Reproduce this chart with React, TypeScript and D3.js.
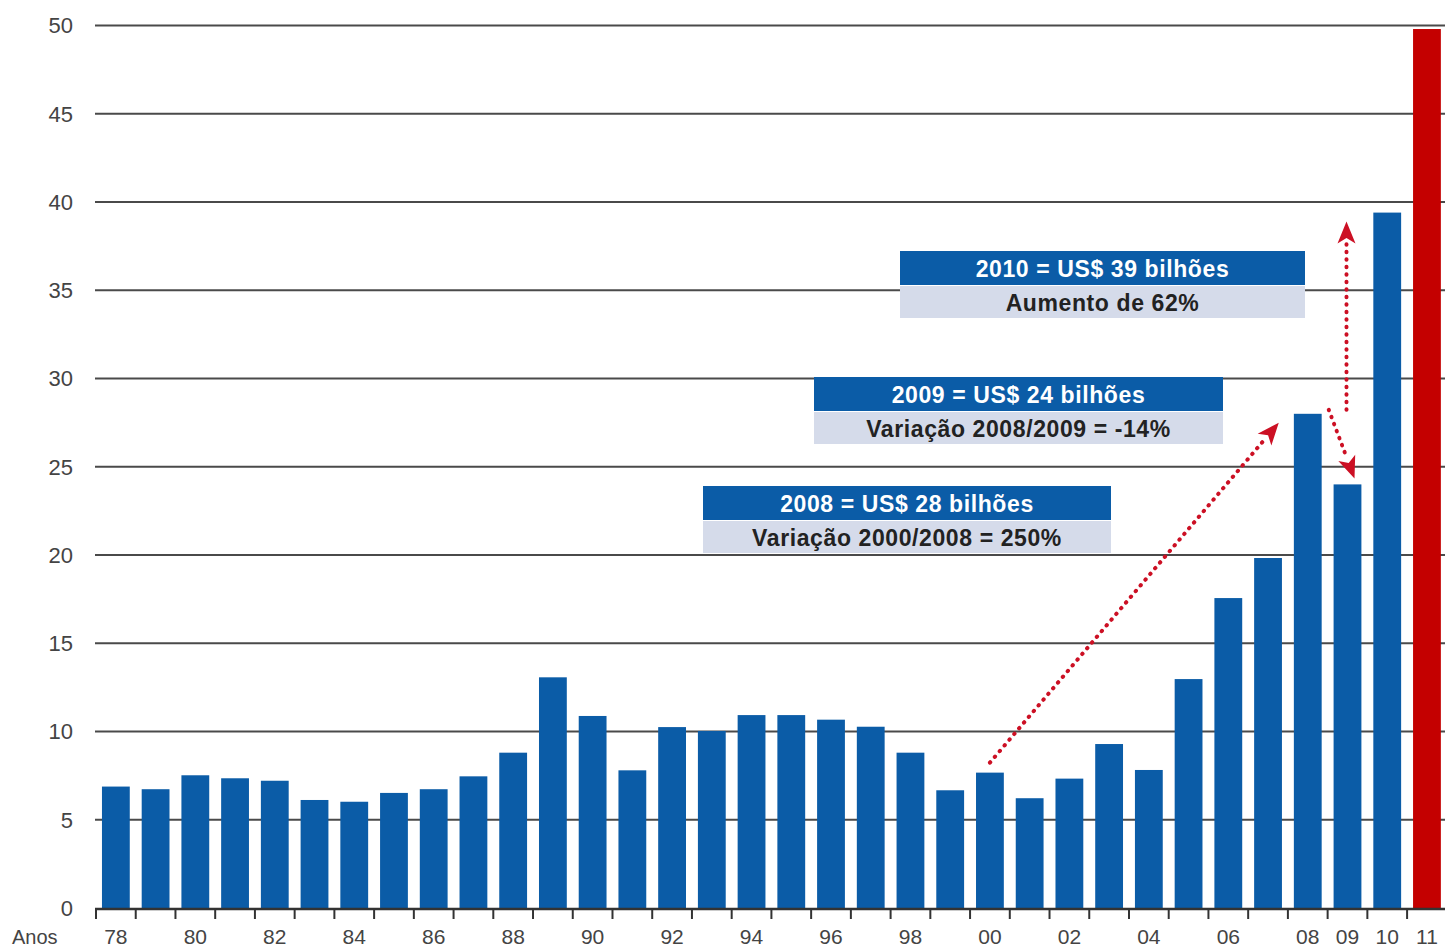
import React from "react";
import * as d3 from "d3";

// Investimento anual, US$ bilhões
const years = [
  "78", "79", "80", "81", "82", "83", "84", "85", "86", "87", "88", "89",
  "90", "91", "92", "93", "94", "95", "96", "97", "98", "99", "00", "01",
  "02", "03", "04", "05", "06", "07", "08", "09", "10", "11",
];
const values = [
  6.88, 6.73, 7.52, 7.35, 7.21, 6.12, 6.02, 6.52, 6.73, 7.46, 8.8, 13.07,
  10.88, 7.8, 10.25, 10.03, 10.93, 10.93, 10.67, 10.27, 8.8, 6.67, 7.67, 6.22,
  7.33, 9.29, 7.82, 12.97, 17.56, 19.83, 28, 24, 39.4,
];
// 2011 column is shown as a red highlight
const highlightYear = "11";
const highlightTop = 49.8;

const yTicks = [0, 5, 10, 15, 20, 25, 30, 35, 40, 45, 50];
const xLabels = [
  "78", "80", "82", "84", "86", "88", "90", "92", "94", "96", "98", "00",
  "02", "04", "06", "08", "09", "10", "11",
];

const W = 1445;
const H = 950;
const FONT = "'Liberation Sans', Arial, Helvetica, sans-serif";
const BLUE = "#0b5ca7";
const LIGHT = "#d5dbea";
const RED = "#c40000";
const ARROW = "#cc1024";

export default function App() {
  const x = d3
    .scaleBand<string>()
    .domain(years)
    .range([96, 96 + 34 * 39.73])
    .paddingInner(0.3)
    .paddingOuter(0.15);
  const y = d3.scaleLinear().domain([0, 50]).range([908, 25.5]);
  const step = x.step();
  const bw = x.bandwidth();
  const cx = (yr: string) => (x(yr) as number) + bw / 2;
  const val = (yr: string) => values[years.indexOf(yr)];

  const fmt = d3.format(".0f");

  const boxes = [
    {
      x0: 900,
      x1: 1305,
      top: 251,
      title: `2010 = US$ ${fmt(val("10"))} bilhões`,
      sub: "Aumento de 62%",
    },
    {
      x0: 814,
      x1: 1223,
      top: 377,
      title: `2009 = US$ ${fmt(val("09"))} bilhões`,
      sub: "Variação 2008/2009 = -14%",
    },
    {
      x0: 703,
      x1: 1111,
      top: 486,
      title: `2008 = US$ ${fmt(val("08"))} bilhões`,
      sub: "Variação 2000/2008 = 250%",
    },
  ];

  const arrows = [
    { x1: cx("00"), y1: y(val("00")) - 10, x2: cx("08") - 29, y2: y(val("08")) + 9 },
    { x1: cx("08") + 21, y1: y(val("08")) - 4, x2: cx("09") + 7, y2: y(val("09")) - 6 },
    { x1: cx("09") - 1, y1: y(val("08")) - 4, x2: cx("09") - 1, y2: y(val("10")) + 9 },
  ];

  const tickPositions = years.map((yr) => (x(yr) as number) - step * 0.15);

  return (
    <svg
      width={W}
      height={H}
      style={{ position: "absolute", left: 0, top: 0, display: "block" }}
      fontFamily={FONT}
    >
      <rect width={W} height={H} fill="#fff" />

      {/* gridlines */}
      {yTicks
        .filter((t) => t > 0)
        .map((t) => (
          <line key={t} x1={95} x2={W} y1={y(t)} y2={y(t)} stroke="#4a4a4a" strokeWidth={2} />
        ))}

      {/* y labels */}
      {yTicks.map((t) => (
        <text
          key={t}
          x={73}
          y={y(t)}
          dy="0.36em"
          textAnchor="end"
          fontSize={22}
          fill="#444"
        >
          {t}
        </text>
      ))}

      {/* bars */}
      {values.map((v, i) => (
        <rect
          key={years[i]}
          x={x(years[i])}
          y={y(v)}
          width={bw}
          height={y(0) - y(v)}
          fill={BLUE}
        />
      ))}
      <rect
        x={x(highlightYear)}
        y={y(highlightTop)}
        width={bw}
        height={y(0) - y(highlightTop)}
        fill={RED}
      />

      {/* x axis */}
      <line x1={95} x2={W} y1={y(0) + 1} y2={y(0) + 1} stroke="#333" strokeWidth={2.5} />
      {tickPositions.map((p, i) => (
        <line key={i} x1={p} x2={p} y1={y(0)} y2={y(0) + 11} stroke="#333" strokeWidth={2} />
      ))}
      {xLabels.map((l) => (
        <text key={l} x={cx(l)} y={944} textAnchor="middle" fontSize={21} fill="#444">
          {l}
        </text>
      ))}
      <text x={12} y={944} fontSize={20} fill="#444">
        Anos
      </text>

      {/* annotation boxes */}
      {boxes.map((b) => (
        <g key={b.title}>
          <rect x={b.x0} y={b.top} width={b.x1 - b.x0} height={34} fill={BLUE} />
          <rect x={b.x0} y={b.top + 35} width={b.x1 - b.x0} height={32} fill={LIGHT} />
          <text
            x={(b.x0 + b.x1) / 2}
            y={b.top + 18}
            dy="0.36em"
            textAnchor="middle"
            fontSize={23}
            letterSpacing={0.6}
            fontWeight="bold"
            fill="#fff"
          >
            {b.title}
          </text>
          <text
            x={(b.x0 + b.x1) / 2}
            y={b.top + 52}
            dy="0.36em"
            textAnchor="middle"
            fontSize={23}
            letterSpacing={0.6}
            fontWeight="bold"
            fill="#222"
          >
            {b.sub}
          </text>
        </g>
      ))}

      {/* dotted arrows */}
      {arrows.map((a, i) => {
        const dx = a.x2 - a.x1;
        const dy = a.y2 - a.y1;
        const len = Math.hypot(dx, dy);
        const ux = dx / len;
        const uy = dy / len;
        const hl = 22;
        const hw = 9;
        const bx = a.x2 - ux * hl;
        const by = a.y2 - uy * hl;
        const head = `M${a.x2},${a.y2} L${bx - uy * hw},${by + ux * hw} L${a.x2 - ux * hl * 0.75},${a.y2 - uy * hl * 0.75} L${bx + uy * hw},${by - ux * hw} Z`;
        return (
          <g key={i}>
            <line
              x1={a.x1}
              y1={a.y1}
              x2={bx}
              y2={by}
              stroke={ARROW}
              strokeWidth={4}
              strokeLinecap="round"
              strokeDasharray="0.5 7"
            />
            <path d={head} fill={ARROW} />
          </g>
        );
      })}
    </svg>
  );
}
